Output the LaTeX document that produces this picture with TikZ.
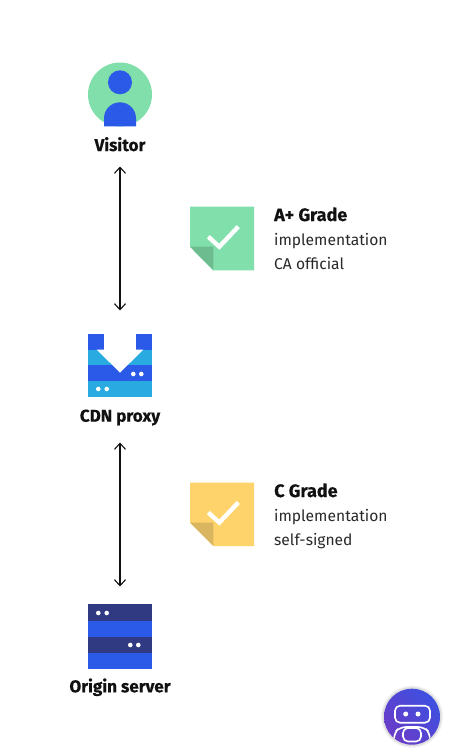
\documentclass[tikz,border=0pt]{standalone}
\usepackage{fontspec}
\setmainfont{Fira Sans}
\newfontfamily\heavyfont[FakeBold=0.35]{Fira Sans Bold}
\usetikzlibrary{arrows.meta}
\definecolor{mint}{HTML}{80DFAB}
\definecolor{mintd}{HTML}{6CBC90}
\definecolor{sun}{HTML}{FFD36B}
\definecolor{sund}{HTML}{D8B55E}
\definecolor{royal}{HTML}{2C5AE8}
\definecolor{navy}{HTML}{2F3A82}
\definecolor{sky}{HTML}{29ABE2}
\definecolor{ink}{HTML}{111111}
\definecolor{robota}{HTML}{6A3CC8}
\definecolor{robotb}{HTML}{3D50E0}
\tikzset{
  x=1pt,y=-1pt,
  caption/.style={font=\fontsize{17.1}{18}\selectfont\heavyfont,text=ink,inner sep=0pt,anchor=base},
  gradehead/.style={font=\fontsize{18}{18}\selectfont\heavyfont,text=ink,inner sep=0pt,anchor=base west},
  gradeline/.style={font=\fontsize{15.6}{18}\selectfont,text=ink!90,inner sep=0pt,anchor=base west},
  link/.style={draw=ink,line width=1.1pt,{Straight Barb[length=6pt,width=11pt,line width=1.1pt]}-{Straight Barb[length=6pt,width=11pt,line width=1.1pt]}},
  tick/.style={draw=white,line width=4.4pt,line join=miter},
  dotw/.style={fill=white,draw=none},
  robotline/.style={draw=white,line width=1.6pt},
}
\begin{document}
\begin{tikzpicture}
\useasboundingbox (0,0) rectangle (448,753);
\fill[white] (0,0) rectangle (448,753);
% Visitor
\fill[mint] (120,94.5) circle[radius=32];
\fill[royal] (120,82.3) circle[radius=12];
\fill[royal] (104,126.3) -- (104,118.3) arc[start angle=180,end angle=0,radius=16,y radius=-16] -- (136,126.3) -- cycle;
\node[caption] (visitor) at (120,151) {Visitor};
% CDN
\fill[sky] (88,349.5) rectangle (152,397);
\fill[royal] (88,365.3) rectangle (152,381);
\fill[royal] (88,333.5) rectangle (104,349.5);
\fill[royal] (136,333.5) rectangle (152,349.5);
\fill[white] (96.7,349.5) -- (143.3,349.5) -- (120,372.7) -- cycle;
\foreach \px/\py in {133.3/374,141.3/374,98.3/389,106.7/389}
  \fill[dotw] (\px,\py) circle[radius=2.3];
\node[caption] (cdn) at (120,421.7) {CDN proxy};
% Origin
\fill[navy] (88,604.3) rectangle (152,621);
\fill[royal] (88,621) rectangle (152,636.6);
\fill[navy] (88,636.6) rectangle (152,652.6);
\fill[royal] (88,652.6) rectangle (152,668.6);
\foreach \px/\py in {98.3/613,106.7/613,130.3/645,138.3/645}
  \fill[dotw] (\px,\py) circle[radius=2.3];
\node[caption] (origin) at (120,692.3) {Origin server};
% connectors
\coordinate (a1) at (120,166.5); \coordinate (a2) at (120,310.5);
\coordinate (b1) at (120,442.5); \coordinate (b2) at (120,586.5);
\draw[link] (a1) -- (a2);
\draw[link] (b1) -- (b2);
% notes
\fill[mint] (190,206.7) -- (254,206.7) -- (254,270.3) -- (213.3,270.3) -- (190,246.7) -- cycle;
\fill[mintd] (190,246.7) -- (213.3,246.7) -- (213.3,270.3) -- cycle;
\draw[tick] (208.3,236.7) -- (219.3,246.7) -- (238.3,226.7);
\node[gradehead] (ga) at (274,221) {A+ Grade};
\node[gradeline] (ga1) at (274,245.5) {implementation};
\node[gradeline] (ga2) at (274,269.5) {CA official};
\fill[sun] (190,482.5) -- (254,482.5) -- (254,546) -- (213.3,546) -- (190,522.5) -- cycle;
\fill[sund] (190,522.5) -- (213.3,522.5) -- (213.3,546) -- cycle;
\draw[tick] (208.3,512.5) -- (219.3,522.5) -- (238.3,502.5);
\node[gradehead] (gc) at (274,497) {C Grade};
\node[gradeline] (gc1) at (274,521.5) {implementation};
\node[gradeline] (gc2) at (274,545.5) {self-signed};
% robot
\fill[black,opacity=.06] (412,716.7) circle[radius=31];
\fill[black,opacity=.08] (412,716.7) circle[radius=29.5];
\begin{scope}
\clip (412,716.7) circle[radius=28];
\shade[left color=robota,right color=robotb,shading angle=135] (384,688) rectangle (440,745);
\draw[robotline,rounded corners=5pt] (395,705.7) rectangle (430,722.7);
\fill[white] (405.7,714) circle[radius=2.5];
\fill[white] (418,714) circle[radius=2.5];
\draw[robotline,rounded corners=6pt] (394,750) -- (394,733) -- (400,727) -- (424,727) -- (430,733) -- (430,750);
\draw[robotline,rounded corners=5pt] (403,728) rectangle (421,741.5);
\end{scope}
\end{tikzpicture}
\end{document}
